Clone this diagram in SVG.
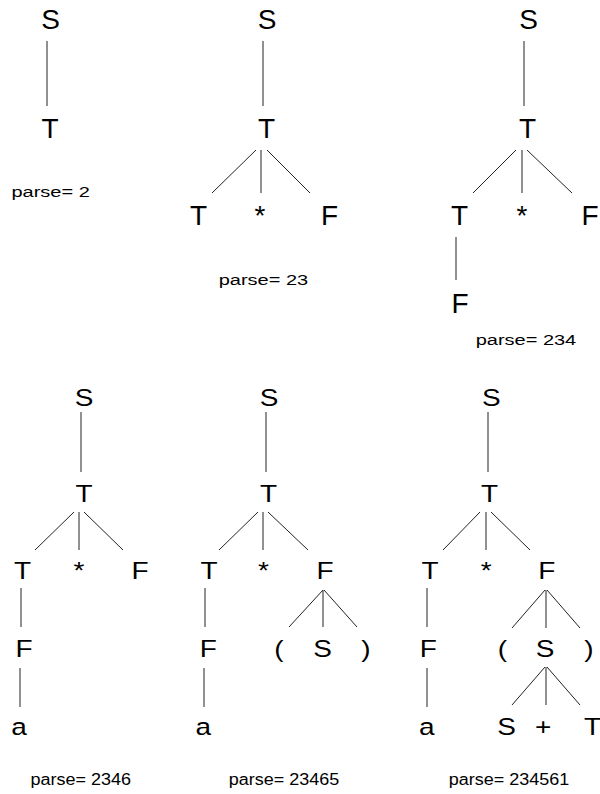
<svg xmlns="http://www.w3.org/2000/svg" width="600" height="794" viewBox="0 0 600 794">
<style>
  .sym { font-family: "Liberation Sans", Arial, sans-serif; font-size: 28px; fill: #000; text-anchor: middle; }
  .lbl { font-family: "Liberation Sans", Arial, sans-serif; font-size: 20px; fill: #000; }
  .lbl2 { font-family: "Liberation Sans", Arial, sans-serif; font-size: 18px; fill: #000; }
  .edges line { stroke: #222; stroke-width: 1; }
</style>
<rect width="600" height="794" fill="#fff"/>

<!-- connectors -->
<g class="edges" id="connectors">
  <!-- tree 1 -->
  <line x1="47" y1="41" x2="47" y2="106"/>
  <!-- tree 2 -->
  <line x1="263" y1="41" x2="263" y2="106"/>
  <line x1="256" y1="150" x2="212" y2="193"/>
  <line x1="261" y1="150" x2="261" y2="193"/>
  <line x1="267" y1="150" x2="310" y2="193"/>
  <!-- tree 3 -->
  <line x1="524" y1="41" x2="524" y2="106"/>
  <line x1="516" y1="150" x2="473" y2="193"/>
  <line x1="522" y1="150" x2="522" y2="193"/>
  <line x1="527" y1="150" x2="572" y2="193"/>
  <line x1="456" y1="237" x2="456" y2="280"/>
  <!-- tree 4 -->
  <line x1="81" y1="412" x2="81" y2="472"/>
  <line x1="74" y1="512" x2="35" y2="550"/>
  <line x1="79" y1="512" x2="79" y2="550"/>
  <line x1="84" y1="512" x2="123" y2="550"/>
  <line x1="21" y1="588" x2="21" y2="627"/>
  <line x1="20" y1="668" x2="20" y2="707"/>
  <!-- tree 5 -->
  <line x1="266" y1="412" x2="266" y2="472"/>
  <line x1="258" y1="512" x2="219" y2="550"/>
  <line x1="263" y1="512" x2="263" y2="550"/>
  <line x1="268" y1="512" x2="308" y2="550"/>
  <line x1="205" y1="588" x2="205" y2="627"/>
  <line x1="204" y1="668" x2="204" y2="707"/>
  <line x1="323" y1="590" x2="289" y2="627"/>
  <line x1="323" y1="590" x2="323" y2="627"/>
  <line x1="324" y1="590" x2="357" y2="627"/>
  <!-- tree 6 -->
  <line x1="488" y1="412" x2="488" y2="472"/>
  <line x1="480" y1="512" x2="443" y2="550"/>
  <line x1="486" y1="512" x2="486" y2="550"/>
  <line x1="491" y1="512" x2="530" y2="550"/>
  <line x1="427" y1="588" x2="427" y2="627"/>
  <line x1="427" y1="668" x2="427" y2="707"/>
  <line x1="545" y1="590" x2="512" y2="628"/>
  <line x1="546" y1="590" x2="546" y2="628"/>
  <line x1="547" y1="590" x2="580" y2="628"/>
  <line x1="545" y1="667" x2="512" y2="705"/>
  <line x1="546" y1="667" x2="546" y2="705"/>
  <line x1="547" y1="667" x2="580" y2="705"/>
</g>

<!-- tree 1 -->
<g id="t1-S"><text class="sym" x="50.5" y="28.5">S</text></g>
<g id="t1-T"><text class="sym" x="50" y="138">T</text></g>
<g id="t1-parse"><text class="lbl" transform="translate(11.5 197) scale(1 0.75)">parse= 2</text></g>

<!-- tree 2 -->
<g id="t2-S"><text class="sym" x="267" y="28.5">S</text></g>
<g id="t2-T"><text class="sym" x="266.5" y="138">T</text></g>
<g id="t2-T1"><text class="sym" x="198.5" y="225">T</text></g>
<g id="t2-star"><text class="sym" x="260" y="225">*</text></g>
<g id="t2-F"><text class="sym" x="329.5" y="225">F</text></g>
<g id="t2-parse"><text class="lbl" transform="translate(218.7 285) scale(1 0.75)">parse= 23</text></g>

<!-- tree 3 -->
<g id="t3-S"><text class="sym" x="528.5" y="28.5">S</text></g>
<g id="t3-T"><text class="sym" x="527.5" y="138">T</text></g>
<g id="t3-T1"><text class="sym" x="459.5" y="225">T</text></g>
<g id="t3-star"><text class="sym" x="522" y="225">*</text></g>
<g id="t3-F"><text class="sym" x="590" y="225">F</text></g>
<g id="t3-F1"><text class="sym" x="460" y="313">F</text></g>
<g id="t3-parse"><text class="lbl" transform="translate(475.7 345) scale(1 0.75)">parse= 234</text></g>

<!-- tree 4 -->
<g id="t4-S"><text class="sym" transform="translate(84 406) scale(1 0.88)">S</text></g>
<g id="t4-T"><text class="sym" transform="translate(84 502) scale(1 0.88)">T</text></g>
<g id="t4-T1"><text class="sym" transform="translate(22.5 579) scale(1 0.88)">T</text></g>
<g id="t4-star"><text class="sym" transform="translate(79 579) scale(1 0.88)">*</text></g>
<g id="t4-F"><text class="sym" transform="translate(140 579) scale(1 0.88)">F</text></g>
<g id="t4-F1"><text class="sym" transform="translate(24 657) scale(1 0.88)">F</text></g>
<g id="t4-a"><text class="sym" transform="translate(19 735) scale(1 0.88)">a</text></g>
<g id="t4-parse"><text class="lbl2" transform="translate(30.5 785) scale(1 0.88)">parse= 2346</text></g>

<!-- tree 5 -->
<g id="t5-S"><text class="sym" transform="translate(269 406) scale(1 0.88)">S</text></g>
<g id="t5-T"><text class="sym" transform="translate(268.5 502) scale(1 0.88)">T</text></g>
<g id="t5-T1"><text class="sym" transform="translate(209 579) scale(1 0.88)">T</text></g>
<g id="t5-star"><text class="sym" transform="translate(263.5 579) scale(1 0.88)">*</text></g>
<g id="t5-F"><text class="sym" transform="translate(325 579) scale(1 0.88)">F</text></g>
<g id="t5-F1"><text class="sym" transform="translate(208.3 657) scale(1 0.88)">F</text></g>
<g id="t5-a"><text class="sym" transform="translate(203.3 735) scale(1 0.88)">a</text></g>
<g id="t5-lp"><text class="sym" transform="translate(279 657) scale(1 0.88)">(</text></g>
<g id="t5-S1"><text class="sym" transform="translate(322.5 657) scale(1 0.88)">S</text></g>
<g id="t5-rp"><text class="sym" transform="translate(366 657) scale(1 0.88)">)</text></g>
<g id="t5-parse"><text class="lbl2" transform="translate(228.8 785) scale(1 0.88)">parse= 23465</text></g>

<!-- tree 6 -->
<g id="t6-S"><text class="sym" transform="translate(491.3 406) scale(1 0.88)">S</text></g>
<g id="t6-T"><text class="sym" transform="translate(489.5 502) scale(1 0.88)">T</text></g>
<g id="t6-T1"><text class="sym" transform="translate(430 579) scale(1 0.88)">T</text></g>
<g id="t6-star"><text class="sym" transform="translate(486.3 579) scale(1 0.88)">*</text></g>
<g id="t6-F"><text class="sym" transform="translate(546.7 579) scale(1 0.88)">F</text></g>
<g id="t6-F1"><text class="sym" transform="translate(428.3 657) scale(1 0.88)">F</text></g>
<g id="t6-a"><text class="sym" transform="translate(426.7 735) scale(1 0.88)">a</text></g>
<g id="t6-lp"><text class="sym" transform="translate(502.5 657) scale(1 0.88)">(</text></g>
<g id="t6-S1"><text class="sym" transform="translate(545 657) scale(1 0.88)">S</text></g>
<g id="t6-rp"><text class="sym" transform="translate(589 657) scale(1 0.88)">)</text></g>
<g id="t6-S2"><text class="sym" transform="translate(506.7 735) scale(1 0.88)">S</text></g>
<g id="t6-plus"><text class="sym" transform="translate(543.3 735) scale(1 0.88)">+</text></g>
<g id="t6-T2"><text class="sym" transform="translate(592.5 735) scale(1 0.88)">T</text></g>
<g id="t6-parse"><text class="lbl2" transform="translate(448.8 785) scale(1 0.88)">parse= 234561</text></g>
</svg>
